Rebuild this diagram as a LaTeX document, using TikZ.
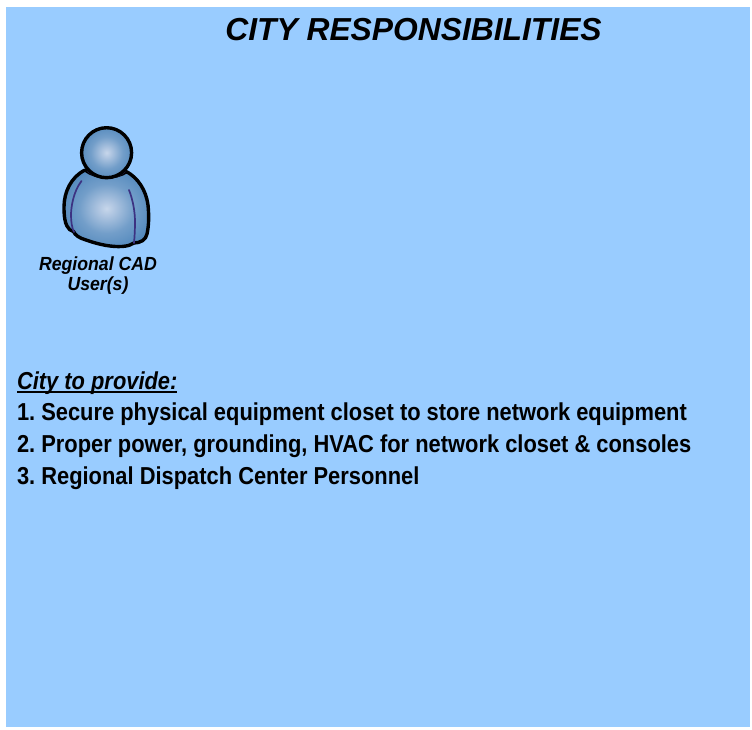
\documentclass[tikz,border=0pt]{standalone}
\usepackage{fontspec}
\setmainfont{Liberation Sans}
\newfontfamily\narrowa[FakeStretch=0.893]{Liberation Sans}
\newfontfamily\narrowb[FakeStretch=0.93]{Liberation Sans}
\definecolor{panel}{RGB}{153,204,255}
\definecolor{collar}{RGB}{60,50,130}
\pgfdeclareradialshading{figshade}{\pgfpoint{0bp}{0bp}}{
  rgb(0bp)=(0.78,0.84,0.92);
  rgb(5bp)=(0.68,0.77,0.88);
  rgb(16bp)=(0.45,0.62,0.79);
  rgb(30bp)=(0.30,0.52,0.73);
  rgb(50bp)=(0.24,0.46,0.68);
  rgb(100bp)=(0.24,0.46,0.68)}
\tikzset{
  every node/.style={inner sep=0pt,outer sep=0pt,text=black},
  titletext/.style={anchor=base,font=\fontsize{31.8}{32}\selectfont\bfseries\itshape},
  listtext/.style={anchor=base west,font=\narrowa\fontsize{24.5}{24.5}\selectfont\bfseries\frenchspacing},
  usertext/.style={anchor=base,font=\narrowb\fontsize{19}{19}\selectfont\bfseries\itshape},
  figline/.style={draw=black,line width=3.4pt,line join=round,shading=figshade},
  seam/.style={draw=collar,line width=1.7pt,line cap=round}
}
\begin{document}
\begin{tikzpicture}[x=1pt,y=-1pt]
\useasboundingbox (0,0) rectangle (752,729);
\fill[panel] (6,7) rectangle (750,727);
\node[titletext] (title) at (413.5,40) {CITY RESPONSIBILITIES};
% body
\path[figline]
  (85,170) .. controls (71,177) and (64,192) .. (64,207)
  .. controls (64,216) and (65,223) .. (67,226)
  .. controls (68,229) and (71,231) .. (73.5,231.5)
  .. controls (75,235) and (79,238) .. (86,240)
  .. controls (100,245) and (112,247) .. (122,246.5)
  .. controls (128,246) and (131,245) .. (134,243)
  .. controls (140,243) and (146,240) .. (147,234)
  .. controls (149,225) and (149,215) .. (148,205)
  .. controls (146,190) and (138,178) .. (126.7,171.7)
  .. controls (115,179) and (97,179) .. (85,170) -- cycle;
% seams
\draw[seam] (88,171) .. controls (96,179) and (116,181) .. (125,171);
\draw[seam] (81.5,181) .. controls (73,192) and (71,208) .. (71,215) .. controls (71,222) and (72,228) .. (74,232);
\draw[seam] (129,190) .. controls (133,200) and (135,212) .. (135,222) .. controls (135,230) and (134.5,238) .. (134,243);
% head
\path[figline] (106.6,152.7) circle (25);
\node[usertext] (user1) at (98,270.5) {Regional CAD};
\node[usertext] (user2) at (98,290.5) {User(s)};
\node[listtext] (head) at (17,389) {\itshape City to provide:};
\draw[black,line width=2pt] ([yshift=-3.2pt]head.base west) -- ([yshift=-3.2pt]head.base east);
\node[listtext] (i1) at (17,420.5) {1. Secure physical equipment closet to store network equipment};
\node[listtext] (i2) at (17,452.5) {2. Proper power, grounding, HVAC for network closet \& consoles};
\node[listtext] (i3) at (17,484.5) {3. Regional Dispatch Center Personnel};
\end{tikzpicture}
\end{document}
